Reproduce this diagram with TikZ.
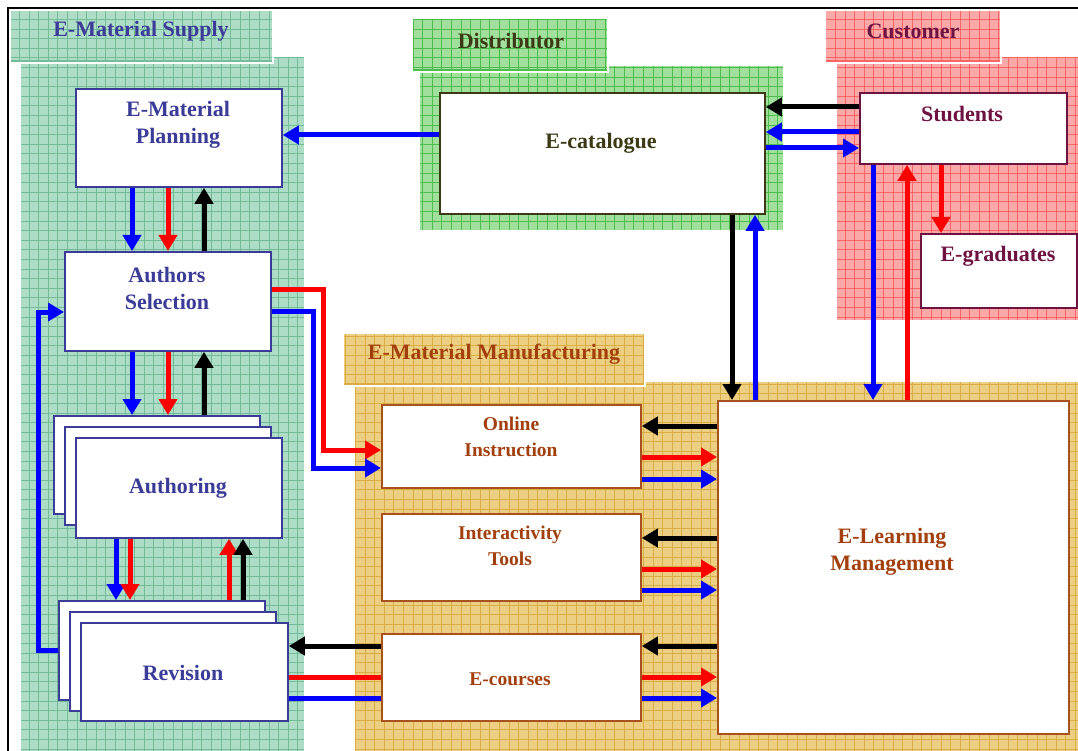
\documentclass[tikz,border=0pt]{standalone}
\usepackage{fontspec}
\setmainfont{Liberation Serif}
\usetikzlibrary{arrows.meta}

\definecolor{supplyfill}{HTML}{ADDDC6}
\definecolor{supplygrid}{HTML}{74BC98}
\definecolor{distfill}{HTML}{A0E09C}
\definecolor{distgrid}{HTML}{4CBC4C}
\definecolor{custfill}{HTML}{FAA8A8}
\definecolor{custgrid}{HTML}{FF6464}
\definecolor{manfill}{HTML}{ECCF82}
\definecolor{mangrid}{HTML}{D9AE45}
\definecolor{supplyink}{HTML}{3B3B98}
\definecolor{distink}{HTML}{3C3A14}
\definecolor{custink}{HTML}{6E1242}
\definecolor{manink}{HTML}{A23F0C}
\definecolor{manline}{HTML}{A8501E}
\definecolor{flowblue}{HTML}{0000FF}
\definecolor{flowred}{HTML}{FF0000}

% textured panel: x1 y1 x2 y2 fill grid
\newcommand{\texturedpanel}[6]{%
  \begin{scope}
    \clip (#1,#2) rectangle (#3,#4);
    \fill[#5] (#1,#2) rectangle (#3,#4);
    \draw[#6, line width=0.55pt, step=9.6pt] (#1,#2) grid (#3,#4);
  \end{scope}}
% panel heading with white rim
\newcommand{\panelheading}[6]{%
  \texturedpanel{#1}{#2}{#3}{#4}{#5}{#6}
  \draw[#6, line width=2pt] (#1,#4-2) -- (#3,#4-2);
  \draw[white, line width=1.5pt] (#1,#2) rectangle (#3,#4);}

\tikzset{
  box/.style={fill=white, line width=1.8pt, inner sep=0pt, anchor=north west},
  supplybox/.style={box, draw=supplyink},
  distbox/.style={box, draw=distink},
  custbox/.style={box, draw=custink},
  manbox/.style={box, draw=manline},
  bigtxt/.style={font=\bfseries\fontsize{22}{27}\selectfont, align=center, inner sep=0pt},
  smalltxt/.style={font=\bfseries\fontsize{19.5}{26}\selectfont, align=center, inner sep=0pt},
  flow/.style={line width=5pt},
  flowtip/.style={flow, -{Triangle[length=16pt,width=18pt]}},
  barrow/.style={flowtip, flowblue},
  rarrow/.style={flowtip, flowred},
  karrow/.style={flowtip, black},
  bline/.style={flow, flowblue},
  rline/.style={flow, flowred},
}

\begin{document}
\begin{tikzpicture}[x=1pt, y=-1pt]
\useasboundingbox (0,0) rectangle (1078,751);

% page frame
\draw[black, line width=2.4pt] (8,751) -- (8,8) -- (1078,8);

% panel bodies
\texturedpanel{21}{57}{304}{751}{supplyfill}{supplygrid}
\texturedpanel{420}{66}{783}{230}{distfill}{distgrid}
\texturedpanel{837}{57}{1078}{320}{custfill}{custgrid}
\texturedpanel{355}{382}{1078}{751}{manfill}{mangrid}

% panel headings
\panelheading{10}{10}{273}{63}{supplyfill}{supplygrid}
\panelheading{412}{18}{608}{72}{distfill}{distgrid}
\panelheading{825}{10}{1001}{63}{custfill}{custgrid}
\panelheading{343}{333}{645}{386}{manfill}{mangrid}

\node[bigtxt, text=supplyink] (h-supply) at (141,31) {E-Material Supply};
\node[bigtxt, text=distink] (h-dist) at (511,41) {Distributor};
\node[bigtxt, text=custink] (h-cust) at (913,31) {Customer};
\node[bigtxt, text=manink] (h-man) at (494,354) {E-Material Manufacturing};

% supply column
\node[supplybox, minimum width=206pt, minimum height=98pt] (ep) at (75,88) {};
\node[supplybox, minimum width=206pt, minimum height=99pt] (as) at (64,251) {};
\node[supplybox, minimum width=206pt, minimum height=98pt] (au-b1) at (53,415) {};
\node[supplybox, minimum width=206pt, minimum height=98pt] (au-b2) at (64,426) {};
\node[supplybox, minimum width=206pt, minimum height=100pt] (au) at (75,437) {};
\node[supplybox, minimum width=206pt, minimum height=99pt] (rv-b1) at (58,600) {};
\node[supplybox, minimum width=206pt, minimum height=99pt] (rv-b2) at (69,611) {};
\node[supplybox, minimum width=207pt, minimum height=98pt] (rv) at (80,622) {};

\node[bigtxt, text=supplyink] (ep-t) at (178,125) {E-Material\\Planning};
\node[bigtxt, text=supplyink] (as-t) at (167,288) {Authors\\Selection};
\node[bigtxt, text=supplyink] (au-t) at (178,488) {Authoring};
\node[bigtxt, text=supplyink] (rv-t) at (183,673) {Revision};

% distributor and customer
\node[distbox, minimum width=325pt, minimum height=121pt] (ec) at (439,92) {};
\node[bigtxt, text=distink] (ec-t) at (601,143) {E-catalogue};
\node[custbox, minimum width=207pt, minimum height=71pt] (st) at (859,92) {};
\node[bigtxt, text=custink] (st-t) at (962,114) {Students};
\node[custbox, minimum width=156pt, minimum height=74pt] (eg) at (920,233) {};
\node[bigtxt, text=custink] (eg-t) at (998,256) {E-graduates};

% manufacturing
\node[manbox, minimum width=259pt, minimum height=83pt] (oi) at (381,404) {};
\node[manbox, minimum width=259pt, minimum height=87pt] (it) at (381,513) {};
\node[manbox, minimum width=259pt, minimum height=87pt] (ecs) at (381,633) {};
\node[manbox, minimum width=351pt, minimum height=333pt] (elm) at (717,400) {};
\node[smalltxt, text=manink] (oi-t) at (511,437) {Online\\Instruction};
\node[smalltxt, text=manink] (it-t) at (510,546) {Interactivity\\Tools};
\node[smalltxt, text=manink] (ecs-t) at (510,679) {E-courses};
\node[bigtxt, text=manink] (elm-t) at (892,552) {E-Learning\\Management};

% catalogue feeds planning
\draw[barrow] (ec.west |- 0,135) -- (ep.east |- 0,135);

% planning <-> authors selection
\draw[barrow] (ep.south -| 132,0) -- (as.north -| 132,0);
\draw[rarrow] (ep.south -| 168,0) -- (as.north -| 168,0);
\draw[karrow] (as.north -| 204,0) -- (ep.south -| 204,0);

% authors selection <-> authoring
\draw[barrow] (as.south -| 132,0) -- (au-b1.north -| 132,0);
\draw[rarrow] (as.south -| 168,0) -- (au-b1.north -| 168,0);
\draw[karrow] (au-b1.north -| 204,0) -- (as.south -| 204,0);

% authoring <-> revision
\draw[barrow] (au.south -| 116,0) -- (rv-b1.north -| 116,0);
\draw[rarrow] (au.south -| 130,0) -- (rv-b1.north -| 130,0);
\draw[rarrow] (rv-b1.north -| 229,0) -- (au.south -| 229,0);
\draw[karrow] (rv-b1.north -| 243,0) -- (au.south -| 243,0);

% revision loops back to authors selection
\draw[barrow] (rv-b1.west |- 0,650) -- (38,650) -- (38,312) -- (as.west |- 0,312);

% authors selection to online instruction
\draw[rarrow] (as.east |- 0,289) -- (323,289) -- (323,450) -- (oi.west |- 0,450);
\draw[barrow] (as.east |- 0,311) -- (313,311) -- (313,468) -- (oi.west |- 0,468);

% e-courses <-> revision
\draw[karrow] (ecs.west |- 0,646) -- (rv.east |- 0,646);
\draw[rline] (rv.east |- 0,677) -- (ecs.west |- 0,677);
\draw[bline] (rv.east |- 0,698) -- (ecs.west |- 0,698);

% e-learning management <-> manufacturing boxes
\draw[karrow] (elm.west |- 0,426) -- (oi.east |- 0,426);
\draw[rarrow] (oi.east |- 0,457) -- (elm.west |- 0,457);
\draw[barrow] (oi.east |- 0,479) -- (elm.west |- 0,479);
\draw[karrow] (elm.west |- 0,538) -- (it.east |- 0,538);
\draw[rarrow] (it.east |- 0,569) -- (elm.west |- 0,569);
\draw[barrow] (it.east |- 0,590) -- (elm.west |- 0,590);
\draw[karrow] (elm.west |- 0,646) -- (ecs.east |- 0,646);
\draw[rarrow] (ecs.east |- 0,677) -- (elm.west |- 0,677);
\draw[barrow] (ecs.east |- 0,698) -- (elm.west |- 0,698);

% catalogue <-> e-learning management
\draw[karrow] (ec.south -| 732,0) -- (elm.north -| 732,0);
\draw[barrow] (elm.north -| 755,0) -- (ec.south -| 755,0);

% students <-> catalogue
\draw[karrow] (st.west |- 0,107) -- (ec.east |- 0,107);
\draw[barrow] (st.west |- 0,132) -- (ec.east |- 0,132);
\draw[barrow] (ec.east |- 0,148) -- (st.west |- 0,148);

% students to graduates and e-learning management
\draw[rarrow] (st.south -| 941,0) -- (eg.north -| 941,0);
\draw[barrow] (st.south -| 873,0) -- (elm.north -| 873,0);
\draw[rarrow] (elm.north -| 907,0) -- (st.south -| 907,0);
\end{tikzpicture}
\end{document}
